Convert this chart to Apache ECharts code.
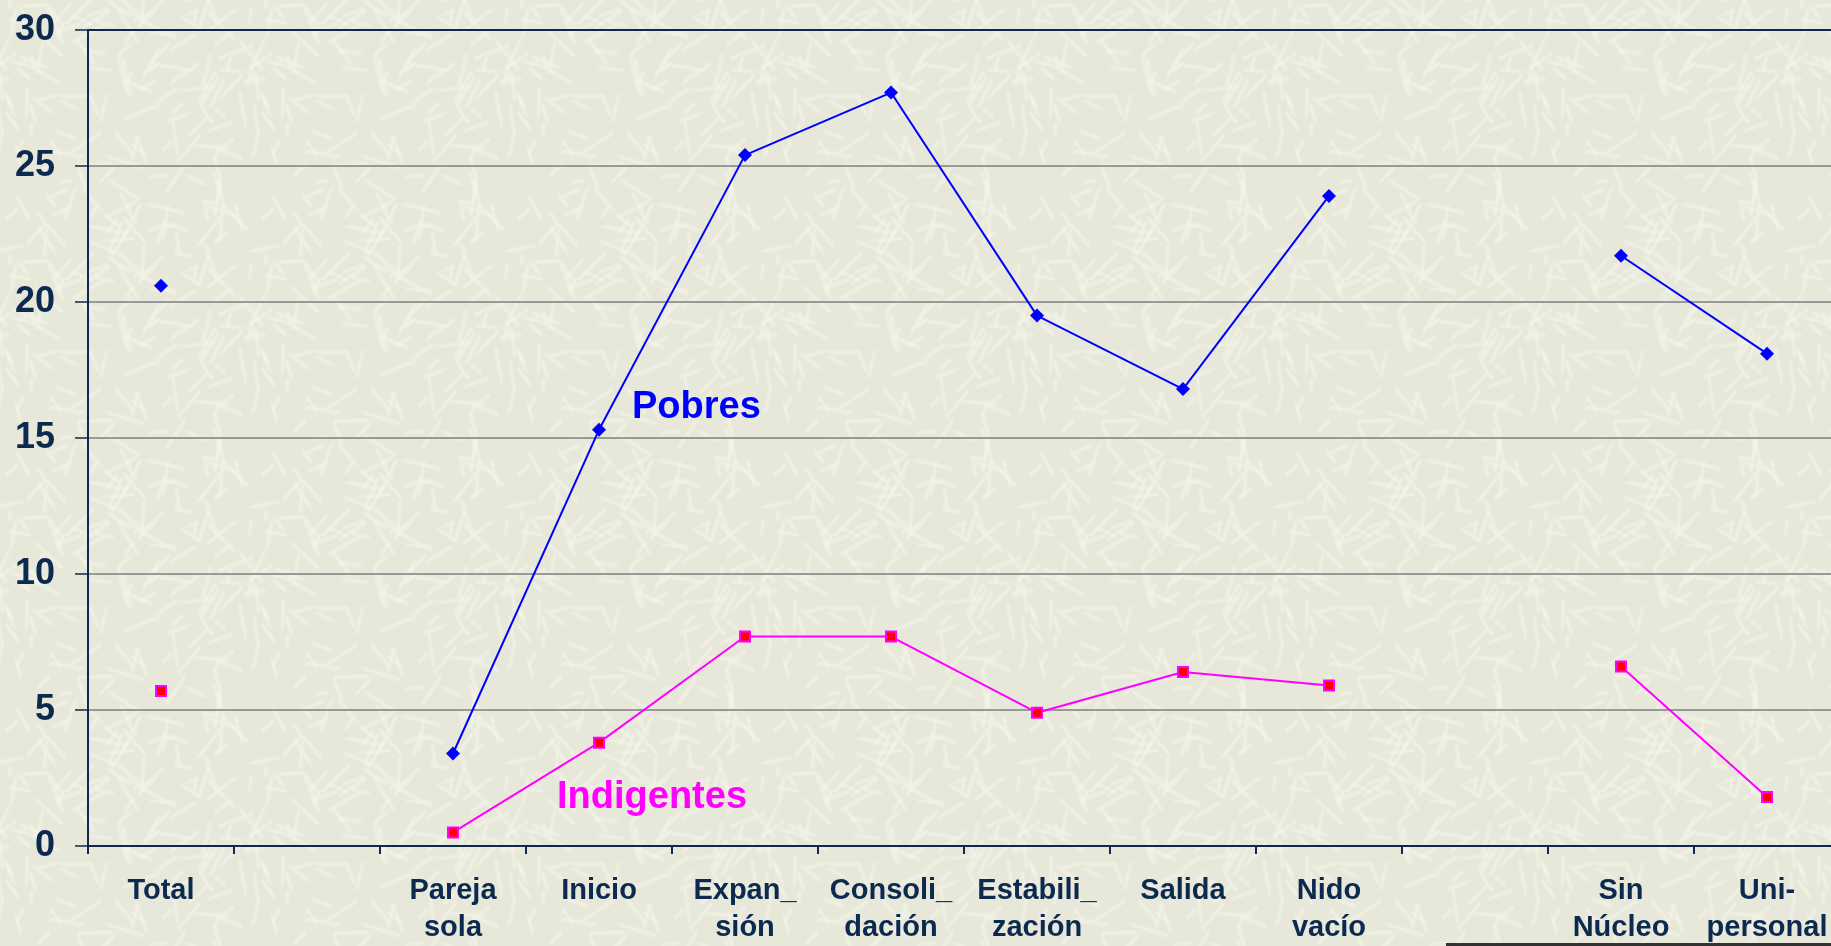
<!DOCTYPE html>
<html>
<head>
<meta charset="utf-8">
<script src="https://cdn.jsdelivr.net/npm/echarts@6/dist/echarts.min.js"></script>
<style>
  html, body { margin: 0; padding: 0; background: #e7e7da; overflow: hidden; width: 1831px; height: 946px; }
  #wrap { position: relative; width: 1831px; height: 946px; overflow: hidden; }
  #chart { position: absolute; left: 0; top: 0; width: 1840px; height: 946px; }
</style>
</head>
<body>
<div id="wrap"><div id="chart"></div></div>
<script>
// categories (blank slots separate the groups)
const categories = [
  "Total", "", "Pareja\nsola", "Inicio", "Expan_\nsión", "Consoli_\ndación",
  "Estabili_\nzación", "Salida", "Nido\nvacío", "", "Sin\nNúcleo", "Uni-\npersonal"
];
const pobres = [20.6, null, 3.4, 15.3, 25.4, 27.7, 19.5, 16.8, 23.9, null, 21.7, 18.1];
const indigentes = [5.7, null, 0.5, 3.8, 7.7, 7.7, 4.9, 6.4, 5.9, null, 6.6, 1.8];
const yTicks = { min: 0, max: 30, interval: 5 };

const navy = "#0c2a4f";
const font = "'Liberation Sans', Arial, sans-serif";

// light streaky paper texture (deterministic)
function makeTexture() {
  const c = document.createElement("canvas");
  c.width = 256; c.height = 256;
  const ctx = c.getContext("2d");
  ctx.fillStyle = "#e7e7da";
  ctx.fillRect(0, 0, 256, 256);
  let s = 98765;
  const rnd = () => { s = (s * 1103515245 + 12345) % 2147483648; return s / 2147483648; };
  ctx.filter = "blur(0.8px)";
  ctx.strokeStyle = "rgba(245,245,233,0.7)";
  ctx.lineWidth = 3;
  ctx.lineCap = "round";
  for (let i = 0; i < 170; i++) {
    const x = rnd() * 256, y = rnd() * 256;
    const a = rnd() * Math.PI, l = 10 + rnd() * 28;
    for (const dx of [-256, 0, 256]) for (const dy of [-256, 0, 256]) {
      ctx.beginPath();
      ctx.moveTo(x + dx, y + dy);
      ctx.lineTo(x + dx + Math.cos(a) * l, y + dy + Math.sin(a) * l);
      ctx.stroke();
    }
  }
  return c;
}

const chart = echarts.init(document.getElementById("chart"));

chart.setOption({
  animation: false,
  backgroundColor: { image: makeTexture(), repeat: "repeat" },
  grid: { left: 88, right: 0, top: 30, bottom: 97 },
  xAxis: {
    type: "category",
    data: categories,
    boundaryGap: true,
    axisLine: { lineStyle: { color: navy, width: 2 } },
    axisTick: { show: true, interval: 0, length: 8, lineStyle: { color: navy, width: 2 } },
    axisLabel: {
      interval: 0,
      margin: 26,
      color: navy,
      fontFamily: font,
      fontWeight: "bold",
      fontSize: 29,
      lineHeight: 37
    },
    splitLine: { show: false }
  },
  yAxis: {
    type: "value",
    min: yTicks.min,
    max: yTicks.max,
    interval: yTicks.interval,
    axisLine: { show: true, lineStyle: { color: navy, width: 2 } },
    axisTick: { show: true, length: 13, lineStyle: { color: navy, width: 1.5 } },
    axisLabel: {
      margin: 33,
      color: navy,
      fontFamily: font,
      fontWeight: "bold",
      fontSize: 36
    },
    splitLine: {
      show: true,
      lineStyle: {
        color: [navy, "#999999", "#999999", "#999999", "#999999", "#999999", navy],
        width: 2
      }
    }
  },
  series: [
    {
      name: "Pobres",
      type: "line",
      data: pobres,
      connectNulls: false,
      showAllSymbol: true,
      symbol: "diamond",
      symbolSize: 14,
      itemStyle: { color: "#0000ff" },
      lineStyle: { color: "#0000ff", width: 2 }
    },
    {
      name: "Indigentes",
      type: "line",
      data: indigentes,
      connectNulls: false,
      showAllSymbol: true,
      symbol: "rect",
      symbolSize: 10,
      itemStyle: { color: "#ff0000", borderColor: "#ff00ff", borderWidth: 2 },
      lineStyle: { color: "#ff00ff", width: 2 }
    }
  ],
  graphic: [
    {
      type: "text",
      left: 632, top: 389,
      style: { text: "Pobres", fill: "#0000ff", font: "bold 38px " + font }
    },
    {
      type: "text",
      left: 557, top: 779,
      style: { text: "Indigentes", fill: "#ff00ff", font: "bold 38px " + font }
    },
    {
      type: "rect",
      shape: { x: 1446, y: 943, width: 394, height: 3 },
      style: { fill: "#333333" }
    }
  ]
});
</script>
</body>
</html>
